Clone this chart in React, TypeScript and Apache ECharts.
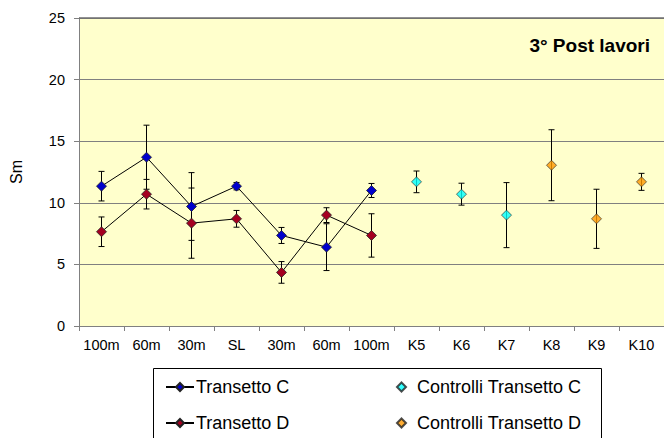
import React, { useEffect, useRef } from "react";
import * as echarts from "echarts";

const categories = ["100m", "60m", "30m", "SL", "30m", "60m", "100m", "K5", "K6", "K7", "K8", "K9", "K10"];
const yTicks = [0, 5, 10, 15, 20, 25];

const transettoCIdx = [0, 1, 2, 3, 4, 5, 6];
const transettoC = [11.35, 13.7, 9.7, 11.35, 7.35, 6.4, 11.0];
const transettoCErr = [1.2, 2.6, 2.75, 0.3, 0.65, 1.9, 0.57];

const transettoDIdx = [0, 1, 2, 3, 4, 5, 6];
const transettoD = [7.65, 10.7, 8.35, 8.7, 4.35, 9.0, 7.35];
const transettoDErr = [1.2, 1.2, 2.85, 0.68, 0.88, 0.6, 1.76];

const controlliCIdx = [7, 8, 9];
const controlliC = [11.7, 10.7, 9.0];
const controlliCErr = [0.88, 0.89, 2.64];

const controlliDIdx = [10, 11, 12];
const controlliD = [13.05, 8.7, 11.7];
const controlliDErr = [2.88, 2.4, 0.69];

const title = "3° Post lavori";
const yName = "Sm";

const FONT = "'Liberation Sans', Arial, sans-serif";

function pts(idx: number[], vals: number[]) {
  return idx.map((x, i) => [x, vals[i]]);
}
function errPts(idx: number[], vals: number[], errs: number[]) {
  return idx.map((x, i) => [x, vals[i], errs[i]]);
}

const errorBarRender = (params: any, api: any) => {
  const x = api.value(0);
  const v = api.value(1);
  const e = api.value(2);
  const top = api.coord([x, v + e]);
  const bot = api.coord([x, v - e]);
  const hw = 3;
  const style = { stroke: "#000", lineWidth: 1 };
  return {
    type: "group",
    children: [
      { type: "line", shape: { x1: top[0], y1: top[1], x2: bot[0], y2: bot[1] }, style },
      { type: "line", shape: { x1: top[0] - hw, y1: top[1], x2: top[0] + hw, y2: top[1] }, style },
      { type: "line", shape: { x1: bot[0] - hw, y1: bot[1], x2: bot[0] + hw, y2: bot[1] }, style },
    ],
  };
};

export default function App() {
  const ref = useRef<HTMLDivElement>(null);
  useEffect(() => {
    document.body.style.margin = "0";
    if (!ref.current) return;
    const chart = echarts.init(ref.current, undefined, { renderer: "svg" });
    const allErr = [
      ...errPts(transettoCIdx, transettoC, transettoCErr),
      ...errPts(transettoDIdx, transettoD, transettoDErr),
      ...errPts(controlliCIdx, controlliC, controlliCErr),
      ...errPts(controlliDIdx, controlliD, controlliDErr),
    ];
    const marker = (color: string) => ({ color, borderColor: "#222", borderWidth: 0.8 });
    const legendText = { color: "#000", fontFamily: FONT, fontSize: 18, lineHeight: 20 };
    chart.setOption({
      animation: false,
      grid: {
        left: 79,
        top: 18,
        width: 587,
        height: 308,
        show: true,
        backgroundColor: "#FFFFCC",
        borderWidth: 0,
        containLabel: false,
      },
      xAxis: {
        type: "category",
        data: categories,
        boundaryGap: true,
        axisLine: { lineStyle: { color: "#808080", width: 1 } },
        axisTick: { show: true, length: 5, lineStyle: { color: "#808080" } },
        axisLabel: { color: "#000", fontFamily: FONT, fontSize: 14.5, margin: 11, interval: 0 },
        splitLine: { show: false },
      },
      yAxis: {
        type: "value",
        min: yTicks[0],
        max: yTicks[yTicks.length - 1],
        interval: 5,
        name: yName,
        nameLocation: "middle",
        nameGap: 55,
        nameRotate: 90,
        nameTextStyle: { color: "#000", fontFamily: FONT, fontSize: 16 },
        axisLine: { show: true, lineStyle: { color: "#808080" } },
        axisTick: { show: true, length: 5, lineStyle: { color: "#808080" } },
        axisLabel: { color: "#000", fontFamily: FONT, fontSize: 14.5, margin: 14 },
        splitLine: { show: true, lineStyle: { color: "#808080", width: 1 } },
      },
      legend: [
        {
          orient: "vertical",
          left: 165,
          top: 377,
          width: 220,
          height: 100,
          padding: 0,
          itemWidth: 28,
          itemHeight: 10,
          itemGap: 16,
          data: ["Transetto C", "Transetto D"],
          textStyle: { ...legendText, padding: [0, 0, 0, -3] },
        },
        {
          orient: "vertical",
          left: 396,
          top: 377,
          width: 220,
          height: 100,
          padding: 0,
          itemWidth: 9,
          itemHeight: 9,
          itemGap: 16,
          data: ["Controlli Transetto C", "Controlli Transetto D"],
          textStyle: { ...legendText, padding: [0, 0, 0, 6] },
        },
      ],
      graphic: [
        {
          type: "rect",
          shape: { x: 153.5, y: 368.5, width: 448, height: 90 },
          style: { fill: "#fff", stroke: "#000", lineWidth: 1 },
          z: -10,
        },
        {
          type: "line",
          shape: { x1: 79, y1: 18, x2: 664, y2: 18 },
          style: { stroke: "#6e6e6e", lineWidth: 1.5 },
          z: 5,
        },
        {
          type: "text",
          x: 650,
          y: 45,
          style: {
            text: title,
            fill: "#000",
            font: `bold 19px ${FONT}`,
            textAlign: "right",
            textVerticalAlign: "middle",
          },
          z: 10,
        },
      ],
      series: [
        {
          type: "custom",
          name: "err",
          renderItem: errorBarRender,
          data: allErr,
          z: 1,
          silent: true,
        },
        {
          name: "Transetto C",
          type: "line",
          data: pts(transettoCIdx, transettoC),
          symbol: "diamond",
          symbolSize: 10,
          lineStyle: { color: "#000", width: 1 },
          itemStyle: marker("#0000CC"),
          z: 3,
        },
        {
          name: "Transetto D",
          type: "line",
          data: pts(transettoDIdx, transettoD),
          symbol: "diamond",
          symbolSize: 10,
          lineStyle: { color: "#000", width: 1 },
          itemStyle: marker("#A50021"),
          z: 3,
        },
        {
          name: "Controlli Transetto C",
          type: "scatter",
          data: pts(controlliCIdx, controlliC),
          symbol: "diamond",
          symbolSize: 10,
          itemStyle: marker("#00FFFF"),
          z: 3,
        },
        {
          name: "Controlli Transetto D",
          type: "scatter",
          data: pts(controlliDIdx, controlliD),
          symbol: "diamond",
          symbolSize: 10,
          itemStyle: marker("#FF9900"),
          z: 3,
        },
      ],
    });
    return () => chart.dispose();
  }, []);
  return <div ref={ref} style={{ width: 664, height: 438 }} />;
}
